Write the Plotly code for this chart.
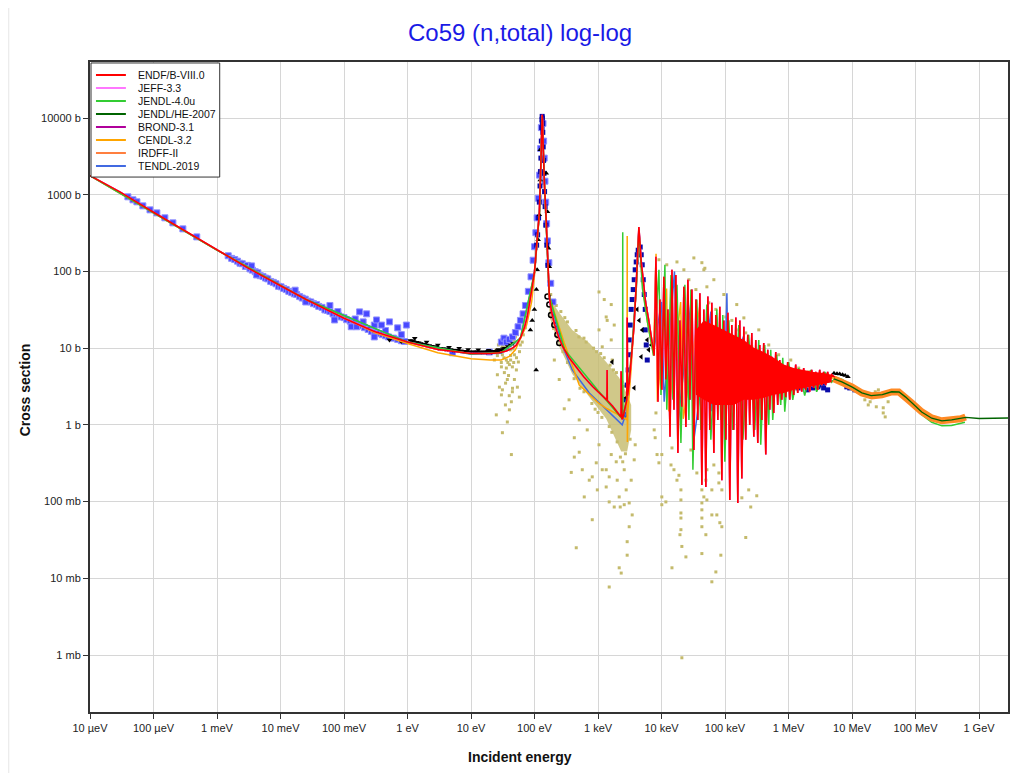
import plotly.graph_objects as go

# ---------------- axis ticks ----------------
x_tickvals = [1e-5, 1e-4, 1e-3, 1e-2, 1e-1, 1, 10, 100, 1e3, 1e4, 1e5, 1e6, 1e7, 1e8, 1e9]
x_ticktext = ["10 µeV", "100 µeV", "1 meV", "10 meV", "100 meV", "1 eV", "10 eV", "100 eV",
              "1 keV", "10 keV", "100 keV", "1 MeV", "10 MeV", "100 MeV", "1 GeV"]
y_tickvals = [1e-3, 1e-2, 1e-1, 1, 10, 100, 1000, 10000]
y_ticktext = ["1 mb", "10 mb", "100 mb", "1 b", "10 b", "100 b", "1000 b", "10000 b"]

# ---------------- evaluations (energy in eV, cross section in b) ----------------
endf_E_low = [1e-5, 3e-5, 1e-4, 3e-4, 1e-3, 3e-3, 1e-2, 2.53e-2, 0.1, 0.3, 1, 3, 10, 20, 28, 36, 45, 52, 61, 70,
              77, 85, 92, 100, 106, 113, 119, 126, 130, 132, 134, 136, 139, 143, 151, 160, 171, 185, 205, 240,
              277, 350, 450, 600, 822, 1050, 1340, 1380, 1390, 1400, 1700, 2000, 2250, 2300, 2310, 2320, 2380,
              2450, 2600, 2840, 2880, 2920, 3100, 3400, 3700, 4000, 4250, 4400, 4550, 4800, 5150, 5600, 6300,
              7000, 7660]
endf_xs_low = [1770, 1080, 590, 345, 190, 112, 65, 43, 24.5, 16.5, 12, 9.6, 8.5, 8.5, 8.7, 9.2, 10, 11, 14, 19,
               26, 40, 63, 100, 175, 330, 580, 2600, 7000, 11000, 9000, 5000, 2500, 1400, 575, 150, 47, 30, 21, 14,
               10.5, 7.5, 5.75, 4.2, 3.16, 2.6, 2.12, 2.1, 5.2, 2.08, 1.75, 1.5, 1.3, 1.27, 5.0, 1.25, 1.18,
               1.22, 1.5, 2.1, 25, 2.4, 3.5, 8, 20, 70, 200, 380, 250, 130, 78, 40, 23,
               13, 8]
endf_E_res = [8170, 8780, 9440, 10100, 10900, 11700, 12600, 13600, 14600, 15700,
              16800, 18100, 19500, 20900, 22500, 24200, 26000, 28000, 30100, 32300,
              34800, 37300, 40200, 43200, 46400, 49900, 53700, 57700, 62000, 66700,
              71700, 77100, 82800, 89100, 95700, 103000, 111000, 119000, 128000, 137000,
              148000, 159000, 171000, 184000, 198000, 212000, 228000, 245000, 264000, 284000,
              305000, 328000, 352000, 379000, 407000, 438000, 471000, 506000, 544000, 585000,
              629000, 676000, 727000, 782000, 841000, 904000, 971000, 1045000, 1123000, 1207000,
              1297000, 1396000, 1500000, 1614000, 1734000, 1864000, 2004000, 2155000, 2317000, 2489000,
              2677000, 2877000, 3097000, 3329000, 3573000, 3846000, 4130000, 4446000, 4775000]
endf_xs_res = [155, 2.0, 43, 2.86, 85, 3.9, 32, 0.70, 105, 1.57,
               90, 0.43, 23, 1.72, 63, 0.94, 78, 2.12, 58, 0.47,
               43, 1.16, 52, 0.165, 32, 0.155, 47, 0.86, 39, 0.43,
               27, 1.16, 34.6, 0.19, 23, 0.64, 29, 0.105, 20, 0.86,
               25, 0.096, 23, 0.20, 19, 0.64, 14.9, 1.0, 15.8, 0.70,
               12.8, 0.58, 11, 1.16, 11.7, 0.41, 9.5, 1.57, 7.7, 1.43,
               8.9, 1.82, 7.0, 2.12, 5.7, 2.3, 6.6, 2.12, 5.2, 2.46,
               6.1, 2.6, 4.8, 2.7, 5.5, 2.86, 4.9, 2.7, 5.2, 3.03,
               4.9, 2.86, 5.2, 3.3, 4.9, 3.3, 4.9, 3.64, 4.5]
endf_E_high = [5.5e6, 7e6, 1e7, 1.4e7, 2e7]
endf_xs_high = [4.1, 3.8, 3.2, 2.6, 2.4]

# dense core of the resolved-resonance region (upper / lower edge)
core_E = [34800, 46400, 66700, 95700, 137000, 198000, 284000, 407000, 585000, 841000, 1207000, 1734000,
          2489000, 3573000, 4775000]
core_hi = [17.3, 23, 20, 17.3, 14.9, 12.8, 10.1, 8.9, 7.5, 6.1, 5.5, 5.2, 4.9, 4.76, 4.5]
core_lo = [2.46, 2.12, 1.82, 1.82, 1.82, 2.12, 2.12, 2.25, 2.46, 2.6, 2.86, 3.03, 3.2, 3.4, 3.6]

jendl4_E = [1e-5, 1e-3, 2.53e-2, 1, 10, 30, 60, 100, 120, 132, 145, 171, 300, 1000, 2300, 2440, 2450, 2460,
            2900, 3500, 4000, 4400, 5000, 6000, 7500,
            9100, 9800, 11300, 12100, 14100, 15100, 17500, 20200, 23300, 27000, 29000, 31200, 36000, 41700,
            51800, 59800, 74300, 85900, 92300, 99300, 115000, 132000, 165000, 191000, 236000, 294000, 340000,
            365000, 422000, 488000, 525000, 564000, 652000, 754000, 811000, 872000, 1008000, 1165000, 1447000,
            1797000, 2234000, 2775000, 3700000, 4775000,
            5.5e6, 7e6, 1e7, 1.4e7, 2e7, 3e7, 4.2e7, 5.5e7, 7e7, 9e7, 1.25e8, 1.8e8, 2.6e8, 3.7e8, 5e8, 6e8]
jendl4_xs = [1770, 190, 43, 12, 8.4, 8.8, 13.5, 98, 600, 10500, 1100, 47, 9.5, 2.8, 1.25, 1.2, 325, 1.2,
             2.5, 12, 60, 350, 60, 22, 8,
             105, 2.46, 122, 1.57, 90, 2.12, 67, 0.58, 67, 1.16, 58, 0.26, 43, 0.86,
             37, 0.64, 32, 1.16, 27, 0.33, 23, 0.86, 20, 0.64, 14.9, 0.86, 12.8,
             0.55, 11, 1.0, 9.5, 1.16, 8.2, 1.82, 7.5, 1.48, 6.6, 2.12, 5.5,
             2.4, 5.2, 2.7, 4.9, 3.6,
             4.15, 3.9, 3.2, 2.6, 2.4, 2.44, 2.62, 2.62, 2.22, 1.8, 1.36, 1.08, 0.97, 0.98, 1.03, 1.08]

jendlhe_E = [5.18e6, 6.92e6, 9.93e6, 1.43e7, 2e7, 3e7, 4.2e7, 5.5e7, 7e7, 8.7e7, 1.25e8, 1.8e8, 2.6e8,
             3.7e8, 5.1e8, 6.2e8, 1e9, 3e9]
jendlhe_xs = [3.98, 3.64, 3.13, 2.61, 2.4, 2.47, 2.7, 2.68, 2.3, 1.93, 1.47, 1.22, 1.13, 1.16, 1.2, 1.25,
              1.21, 1.23]

irdff_E = [5.18e6, 6.92e6, 9.93e6, 1.43e7, 2.05e7, 2.94e7, 4.22e7, 5.44e7, 7e7, 8.7e7, 1.25e8, 1.8e8,
           2.58e8, 3.71e8, 5.14e8, 6.15e8]
irdff_xs = [3.98, 3.64, 3.13, 2.61, 2.39, 2.46, 2.69, 2.69, 2.32, 1.94, 1.48, 1.23, 1.13, 1.16, 1.20, 1.27]

cendl_E = [1e-5, 1e-3, 2.53e-2, 0.3, 1, 3, 10, 20, 30, 40, 50, 60, 75, 90, 100, 120, 132, 145, 171, 294,
           506, 1036, 1390, 2317, 2776, 2860, 2880, 2900, 2950, 3300, 4000, 4400, 5000, 6000, 7500, 8200,
           8600, 12000, 13000, 20000, 22000, 40000, 42000, 100000, 102000, 300000, 310000, 1e6, 2e6, 5e6,
           1e7, 2e7]
cendl_xs = [1770, 190, 43, 16, 11.5, 8.7, 7.3, 7.0, 7.0, 7.8, 9.5, 13, 20, 40, 90, 600, 10500, 1100, 47, 11.7,
            3.3, 1.9, 1.62, 1.3, 1.16, 1.16, 290, 0.6, 1.5, 5, 60, 340, 70, 22, 8, 170,
            2, 60, 1.5, 40, 1.2, 35, 2, 15, 3, 10, 3, 3.6, 3.5, 4.1,
            3.2, 2.4]

tendl_E = [1e-5, 1e-3, 2.53e-2, 1, 10, 30, 60, 100, 120, 132, 145, 171, 264, 393, 728, 1345, 2155, 2404,
           2776, 3100, 4000, 4400, 5000, 6000, 7500, 10000, 11000, 16000, 18000, 30000, 32000, 60000, 62000,
           100000, 107000, 112000, 200000, 210000, 500000, 520000, 1e6, 2e6, 4e6, 6e6, 1e7, 1.4e7, 2e7,
           3e7, 4.2e7, 5.5e7, 7e7, 9e7, 1.25e8, 1.8e8, 2e8]
tendl_xs = [1770, 190, 43, 12, 8.3, 8.6, 13.5, 95, 620, 10500, 1100, 47, 11.7, 5.2, 2.6, 1.57, 1.09, 1.0,
            1.43, 3.4, 60, 350, 90, 25, 9, 40, 2, 100, 1, 50, 0.6, 30, 1.5,
            5, 52, 4, 15, 2, 8, 2.5, 3.3, 3.1, 3.6, 3.9, 3.1, 2.6, 2.38,
            2.44, 2.66, 2.66, 2.28, 1.85, 1.43, 1.2, 1.17]

# ---------------- experimental data ----------------
khaki_band_E = [171, 245, 393, 728, 1345, 2155, 2877, 3329, 3329, 2877, 2317, 1800, 1345, 728, 393, 245, 171]
khaki_band_xs = [45, 29, 17.3, 11.7, 6.6, 4.1, 2.46, 1.82, 0.86, 0.45, 0.45, 0.7, 1.2, 2.3, 4.6, 10.5, 26]

khaki_E = [30.1, 33.5, 31.2, 36.0, 40.2, 44.8, 30.1, 33.5, 37.3, 51.8, 28.0, 31.2, 44.8, 53.7, 30.1, 31.2,
           37.3, 43.2, 40.2, 57.7, 48.2, 25.0, 27.0, 23.3, 59.8, 66.7, 71.7, 48.2, 41.7, 34.8, 55.7, 26.0,
           43.2, 34.8, 25.0, 28, 32, 38, 42, 46, 50, 36, 52, 64, 58, 47, 39,
           294, 423, 379, 607, 811, 454, 1500, 2155, 2236, 3097, 2877, 2877, 2155, 2317, 1500, 1800, 1345,
           3097, 728, 565, 938, 506, 423, 1500, 2005, 2776, 3329, 811, 1345, 1165, 1345, 1672, 1036, 1614,
           350, 245, 205, 506, 676, 1036, 1614, 2585, 3713, 3850, 1165, 975, 1935, 2585, 3452, 1036, 1253,
           1614, 1393, 1800,
           8500, 14600, 10100, 11700, 15700, 14100, 17500, 8170, 7660, 7940, 9100, 10100, 14600, 18800,
           20200, 20200, 20200, 20200, 20200, 19500, 20900, 24200, 10100, 43200, 43200, 43200, 43200, 49900,
           43200, 62000, 74300, 82800, 89100, 85900, 71700, 62000, 184000, 212000, 254000, 316000, 236000,
           20900, 46400, 51800, 89100, 62000, 80000, 80000, 49900, 43200, 51800, 66700, 29000, 36000,
           43200, 46400, 22500, 27000, 34800, 51800, 55700, 71700, 103000, 128000, 165000, 212000, 264000,
           48100, 9100, 12100, 17500, 32300, 66700, 95700, 153000, 198000, 340000, 488000, 700000, 1084000,
           1447000, 2080000,
           1.8e7, 1.93e7, 2.41e7, 3.1e7, 3.1e7, 3.33e7, 2.32e7, 2.6e7, 1.59e7, 3.7e7]
khaki_xs = [12.8, 10.4, 8.2, 7.0, 6.1, 5.7, 5.7, 4.8, 3.9, 5.2, 3.1, 2.86, 2.7, 3.1, 2.46, 0.79,
            1.09, 0.41, 1.57, 2.3, 3.9, 9.5, 11.0, 7.0, 11.0, 14.9, 18.4, 8.2, 9.5, 13.6, 6.6, 4.5,
            2.0, 1.82, 1.35, 9.5, 10, 11.5, 8, 9.8, 12, 5.5, 7.5, 12, 9, 6.5, 4.4,
            1.62, 0.38, 0.24, 0.115, 0.058, 0.025, 0.0077, 0.115, 0.085, 0.047, 0.030, 0.020, 0.0137, 0.0117,
            0.099, 0.085, 0.155, 0.096, 0.19, 0.26, 0.32, 0.44, 0.68, 0.21, 0.19, 0.142, 0.19, 0.21, 0.26,
            10.4, 25.5, 7.0, 17.3, 12.8, 2.12, 3.9, 7.0, 1.16, 0.86, 0.55, 0.41, 0.26, 0.35, 0.55, 0.26,
            0.142, 0.33, 0.091, 0.067, 54, 43, 37, 23, 20,
            0.41, 0.0137, 0.091, 0.099, 0.26, 0.30, 0.19, 1.43, 0.86, 0.68, 0.32, 0.41, 0.5, 0.22,
            0.142, 0.105, 0.071, 0.061, 0.043, 0.037, 0.026, 0.019, 0.115, 0.096, 0.078, 0.061, 0.047, 0.037,
            0.021, 0.067, 0.067, 0.053, 0.047, 0.020, 0.0121, 0.009, 0.112, 0.034, 0.085, 0.119, 0.142,
            0.00092, 0.115, 0.105, 0.142, 0.142, 0.175, 0.236, 0.19, 0.142, 0.26, 0.30, 0.47, 0.236,
            130, 105, 105, 78, 58, 63, 39, 32, 25.5, 23, 17.3, 15.8, 10.4,
            110, 142, 122, 133, 150, 78, 50, 37, 24.8, 17.3, 11, 8.2, 7.0,
            5.5, 4.9,
            1.82, 2.0, 1.72, 1.67, 1.43, 1.27, 2.7, 2.86, 2.12, 2.0]

# extra scatter around the dense band and in the 25-60 eV cloud
khaki2_E = [180, 200, 220, 260, 300, 330, 450, 500, 600, 650, 850, 950, 1100, 1250, 1550, 1750, 1950, 2400,
            2600, 3000,
            200, 230, 280, 330, 420, 520, 600, 800, 900, 1000, 1150, 1500, 1650, 2000, 2250, 2450, 2700, 3200,
            29, 31, 34, 37, 40, 44, 47, 50, 54, 33, 38, 42, 30, 26, 35, 45, 40]
khaki2_xs = [50, 40, 36, 30, 25, 22, 17, 14, 13.5, 12, 10, 9, 8.5, 7.5, 6, 5.2, 4.8, 3.6,
             3.2, 2.6,
             18, 14, 9, 6.5, 4, 3, 2.7, 1.9, 1.6, 1.45, 1.25, 0.95, 0.8, 0.6, 0.38, 0.33, 0.42, 0.65,
             9, 10.5, 9.5, 10, 11, 11.5, 12.5, 14, 15, 7.5, 6.5, 7, 6.5, 8, 3.5, 3, 2.4]

lightblue_E = [3.95e-5, 4.75e-5, 5.48e-5, 6.8e-5, 8.8e-5, 1.13e-4, 1.51e-4, 2.02e-4, 2.9e-4, 4.8e-4,
               1.5e-3, 1.7e-3, 1.9e-3, 2.1e-3, 2.3e-3, 2.5e-3, 2.8e-3, 3.0e-3, 3.3e-3, 3.6e-3, 4e-3, 4.4e-3,
               4.8e-3, 5.3e-3, 5.8e-3, 6.3e-3, 7e-3, 7.7e-3, 8.5e-3, 9.3e-3, 1.02e-2, 1.12e-2, 1.23e-2,
               1.35e-2, 1.5e-2, 1.65e-2, 1.8e-2, 2.0e-2, 2.2e-2, 2.45e-2, 2.7e-2, 3e-2, 3.3e-2, 3.7e-2, 4e-2,
               4.5e-2, 5e-2, 5.5e-2, 6e-2, 6.7e-2, 7.5e-2, 8.2e-2, 9e-2, 0.1, 0.11, 0.125, 0.14, 0.155, 0.17,
               0.19, 0.21, 0.24, 0.27, 0.3, 0.35, 0.4, 0.45, 0.5, 0.6, 0.7, 0.8, 0.9, 0.06, 0.08, 0.15, 0.2,
               0.3, 0.45, 0.8, 0.017, 0.0035, 0.0042, 0.025, 0.13, 0.176, 0.227, 0.325, 0.52, 0.96, 0.70,
               0.39, 0.30, 0.071, 0.158, 5.1, 19.5,
               30, 33, 36, 40, 45, 50, 55, 60, 66, 72, 80, 88, 95, 100, 105, 110, 115, 120, 125, 128, 136, 139,
               142, 146, 150, 155, 160, 168, 180, 195]
lightblue_xs = [939, 858, 808, 716, 635, 580, 500, 430, 359, 282,
                160, 148, 143, 136, 128, 126, 116, 120, 108, 104, 99, 96,
                88, 86, 82, 80, 74, 72, 69, 64, 63, 60, 58,
                55, 53, 51, 50, 47, 45, 43.5, 41, 40, 38, 37, 35,
                34, 31.5, 31, 30, 28, 27, 26.5, 25.5, 25, 23.5, 22.5, 21.5, 21, 20,
                19.5, 18.5, 17.5, 16.5, 16, 15.5, 15, 14.5, 14, 13.5, 13, 12.5, 12.2, 36, 30, 24, 22,
                20, 17, 15, 57, 118, 90, 40, 19, 29.7, 28, 23.3, 22, 20, 18.4,
                20, 14, 23.3, 19, 8.7, 8.9,
                12, 13.5, 12, 13, 14, 16, 19, 23, 28, 36, 55, 85, 140, 210, 320, 500, 900, 1800, 4000, 7500, 8500,
                5000, 3000, 1500, 800, 420, 250, 130, 70, 40]

darkblue_E = [108, 112, 116, 119, 122, 124, 126, 128, 130, 131, 132, 133, 134, 135, 137, 139, 141, 144, 147,
              151, 156, 162,
              2677, 2776, 2877, 2984, 3097, 3097, 3210, 3329, 3452, 3580, 3713, 3850, 3993, 4141, 4294, 4618,
              4790, 4967, 5151, 5342, 5540, 5540, 5745, 5958,
              1.22e6, 1.42e6, 1.7e6, 1.97e6, 2.4e6, 2.9e6, 3.5e6, 2.33e6, 3.0e6, 3.57e6, 4.13e6, 8.28e6,
              9.2e6, 1.11e7]
darkblue_xs = [220, 300, 500, 800, 1300, 2000, 3000, 5000, 7500, 9500, 10500, 10000, 8500, 6500, 4200, 2800,
               1900, 1100, 700, 400, 220, 120,
               1.35, 2.12, 3.3, 5.2, 8.2, 12.8, 20, 32, 43, 58, 78, 105, 133, 165, 189, 208,
               165, 122, 78, 50, 32, 17.3, 11, 7,
               3.3, 3.03, 3.2, 2.86, 3.03, 3.13, 3.5, 3.5, 3.3, 3.03, 2.86, 3.13,
               3.03, 2.86]

black_tri_E = [1.2, 1.5, 1.8, 2.2, 2.7, 3.3, 4, 4.8, 5.8, 7, 8.5, 10, 12, 14.5, 17.5, 21, 25, 30, 36, 1.3, 2,
               3, 4.5, 6.5, 9, 13, 19, 27, 0.52, 0.8,
               1.1, 1.25, 1.4, 1.6, 1.75, 2.0, 2.4, 2.6, 2.9, 3.1, 3.6, 3.9, 4.3, 5.2, 5.5, 6.2, 6.8, 7.5, 8,
               9.3, 11, 12.5, 13.5, 15.5, 16.5, 18.5, 20, 23, 26, 28, 32, 34, 38, 42, 46]
black_tri_xs = [12.5, 11.8, 11.2, 10.8, 10.4, 10.0, 9.8, 9.6, 9.4, 9.2, 9.0, 8.9, 8.9, 8.8, 8.7, 8.8, 9.0,
                9.4, 10.0, 13.5, 12, 11, 10.3, 10, 9.6, 9.5, 9.4, 9.6, 12.8, 12.2,
                12.6, 12.2, 11.9, 11.5, 11.3, 11, 10.6, 10.4, 10.2, 10, 9.8, 9.7, 9.6, 9.4, 9.3, 9.3, 9.2,
                9.1, 9.1, 9.0, 9.0, 9.0, 9.0, 8.9, 9.0, 9.1, 9.1, 9.1, 9.3, 9.4, 9.8, 10, 10.5, 11, 11.5]
black_up_E = [123, 123, 119, 114, 110, 107, 99.5, 92, 86, 106, 153, 160, 166, 171,
              5.2e6, 5.8e6, 6.4e6, 7.1e6, 7.8e6, 8.6e6]
black_up_xs = [3850, 1560, 547, 258, 105, 58, 32, 23, 17.3, 5.2, 1900, 600, 200, 115,
               4.7, 4.65, 4.6, 4.5, 4.4, 4.25]
black_circ_E = [160, 171, 182, 205, 229, 245]
black_circ_xs = [47, 37, 27, 20, 15, 11.7]
black_left_E = [1672, 2776, 3713, 4790, 5958, 6300, 6900, 4455, 4141, 4967]
black_left_xs = [6.6, 2.25, 3.03, 7.7, 12.8, 9.5, 11, 23, 32, 17.3]

legend_names = ["ENDF/B-VIII.0", "JEFF-3.3", "JENDL-4.0u", "JENDL/HE-2007", "BROND-3.1", "CENDL-3.2",
                "IRDFF-II", "TENDL-2019"]
legend_colors = ["#ff0000", "#ff77ff", "#33cc33", "#006400", "#b0009a", "#ffa500", "#ff7f3f", "#4169e1"]

# ---------------- figure ----------------
fig = go.Figure()


def add(E, xs, **kw):
    fig.add_trace(go.Scatter(x=E, y=xs, showlegend=False, hoverinfo="skip", **kw))


khaki = "#c4ba6c"
add(khaki_band_E, khaki_band_xs, mode="lines", fill="toself", fillcolor="rgba(196,186,108,0.8)",
    line=dict(width=0))
add(khaki_E, khaki_xs, mode="markers", marker=dict(symbol="square", size=3, color=khaki))
add(khaki2_E, khaki2_xs, mode="markers", marker=dict(symbol="square", size=3, color=khaki))
add(lightblue_E, lightblue_xs, mode="markers",
    marker=dict(symbol="square", size=6, color="#4848ff", line=dict(color="#9090ff", width=1)))
add(darkblue_E, darkblue_xs, mode="markers", marker=dict(symbol="square", size=5, color="#0a0aa8"))
add(black_tri_E, black_tri_xs, mode="markers", marker=dict(symbol="triangle-down", size=5, color="#000"))
add(black_up_E, black_up_xs, mode="markers", marker=dict(symbol="triangle-up", size=5, color="#000"))
add(black_circ_E, black_circ_xs, mode="markers",
    marker=dict(symbol="circle-open", size=5, color="#000", line=dict(width=1.5)))
add(black_left_E, black_left_xs, mode="markers", marker=dict(symbol="triangle-left", size=5, color="#000"))

endf_E = endf_E_low + endf_E_res + endf_E_high
endf_xs = endf_xs_low + endf_xs_res + endf_xs_high

add(tendl_E, tendl_xs, mode="lines", line=dict(color=legend_colors[7], width=1.5))
add(endf_E, endf_xs, mode="lines", line=dict(color=legend_colors[4], width=1.5))   # BROND-3.1
add(cendl_E, cendl_xs, mode="lines", line=dict(color=legend_colors[5], width=1.5))
add(endf_E, endf_xs, mode="lines", line=dict(color=legend_colors[1], width=1.5))   # JEFF-3.3
add(jendl4_E, jendl4_xs, mode="lines", line=dict(color=legend_colors[2], width=1.5))
add(core_E + core_E[::-1], core_hi + core_lo[::-1], mode="lines", fill="toself", fillcolor="#ff0000",
    line=dict(width=0))
add(endf_E, endf_xs, mode="lines", line=dict(color=legend_colors[0], width=1.6))
add(irdff_E, irdff_xs, mode="lines", line=dict(color="#ff8a24", width=7))
add(jendlhe_E, jendlhe_xs, mode="lines", line=dict(color=legend_colors[3], width=1.3))

# plot area (page px): x 90..1010, y 62..712 ; page body offset 8 px
shapes = [dict(type="rect", xref="paper", yref="paper", x0=0.0011, x1=0.1413, y0=0.823, y1=0.9985,
               fillcolor="white", line=dict(color="#333", width=1), layer="above")]
annotations = []
for i, (nm, col) in enumerate(zip(legend_names, legend_colors)):
    yy = 0.98 - 0.02 * i
    shapes.append(dict(type="line", xref="paper", yref="paper", x0=0.0065, x1=0.0391, y0=yy, y1=yy,
                       line=dict(color=col, width=2), layer="above"))
    annotations.append(dict(text=nm, xref="paper", yref="paper", x=0.05, y=yy, xanchor="left",
                            yanchor="middle", showarrow=False, font=dict(size=10.5, color="#111")))

annotations.append(dict(text="<b>Incident energy</b>", xref="paper", yref="paper", x=0.4685, y=-0.0692,
                        xanchor="center", yanchor="middle", showarrow=False,
                        font=dict(size=14, color="#111")))
annotations.append(dict(text="<b>Cross section</b>", xref="paper", yref="paper", x=-0.0707, y=0.495,
                        xanchor="center", yanchor="middle", showarrow=False, textangle=-90,
                        font=dict(size=14, color="#111")))
shapes.append(dict(type="line", xref="paper", yref="paper", x0=-0.0885, x1=-0.0885, y0=-0.094, y1=1.083,
                   line=dict(color="#e6e6e6", width=1), layer="below"))

axis_common = dict(type="log", showgrid=True, gridcolor="#d6d6d6", gridwidth=1, ticks="outside", ticklen=5,
                   tickwidth=1, tickcolor="#333", showline=True, linecolor="#333", linewidth=2, mirror=True,
                   zeroline=False, tickfont=dict(family="Arial, Liberation Sans, sans-serif", size=11,
                                                 color="#222"))

fig.update_layout(
    width=1012, height=765,
    margin=dict(l=82, r=10, t=54, b=61),
    paper_bgcolor="white", plot_bgcolor="white",
    font=dict(family="Arial, Liberation Sans, sans-serif"),
    title=dict(text="Co59 (n,total) log-log", x=0.506, xanchor="center", y=0.9673, yanchor="middle",
               font=dict(size=24, color="#1a1ae6")),
    xaxis=dict(range=[-5, 9.456], tickvals=x_tickvals, ticktext=x_ticktext, **axis_common),
    yaxis=dict(range=[-3.743, 4.730], tickvals=y_tickvals, ticktext=y_ticktext, **axis_common),
    shapes=shapes, annotations=annotations, showlegend=False,
)

fig.write_html("out.html")
